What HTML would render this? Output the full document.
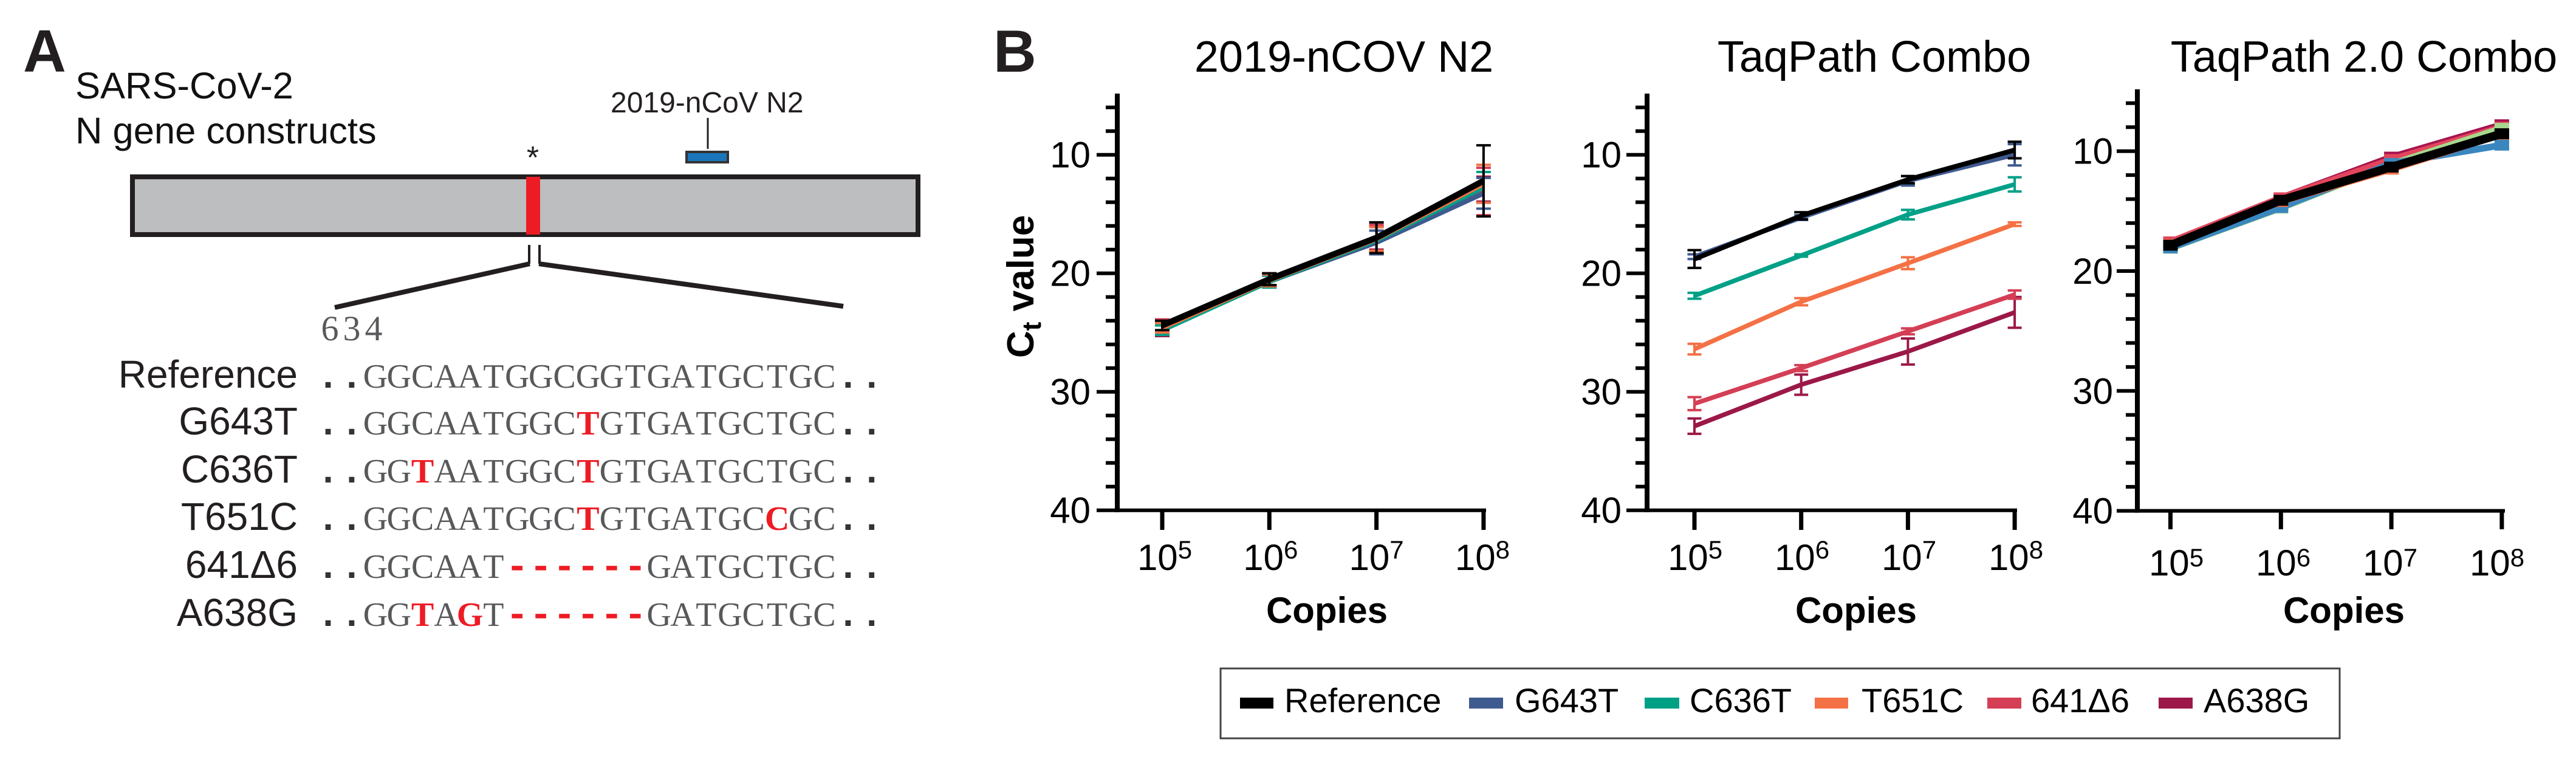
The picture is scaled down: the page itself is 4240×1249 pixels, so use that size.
<!DOCTYPE html>
<html lang="en">
<head>
<meta charset="utf-8">
<title>SARS-CoV-2 N gene constructs and Ct values</title>
<style>
html,body{margin:0;padding:0;background:#fff;}
svg{display:block;font-family:"Liberation Sans",Arial,sans-serif;}
.mono{font-family:"Liberation Serif",serif;font-size:56px;fill:#58595b;text-anchor:middle;}
.mut{fill:#ed1c24;font-weight:bold;}
.dash{fill:#ed1c24;font-weight:bold;font-family:"Liberation Mono",monospace;font-size:62px;}
.dot{fill:#333;font-weight:bold;font-family:"Liberation Mono",monospace;font-size:62px;}
.lbl{font-size:64px;fill:#231f20;text-anchor:end;}
.leg{font-size:56px;fill:#000;}
</style>
</head>
<body>
<svg id="fig" xmlns="http://www.w3.org/2000/svg" width="4240" height="1249" viewBox="0 0 4240 1249">
<rect width="4240" height="1249" fill="#fff"/>
<g>
<text x="38" y="118" font-size="98" font-weight="bold" fill="#231f20">A</text>
<text x="124" y="162" font-size="61.5" fill="#111">SARS-CoV-2</text>
<text x="124" y="236" font-size="61.5" fill="#111">N gene constructs</text>
<text x="1005" y="185" font-size="48" fill="#231f20">2019-nCoV N2</text>
<line x1="1165" y1="194" x2="1165" y2="245" stroke="#231f20" stroke-width="3"/>
<rect x="1130" y="250" width="68" height="17" fill="#1b75bb" stroke="#333" stroke-width="4"/>
<text x="877" y="277" font-size="52" text-anchor="middle" fill="#231f20">*</text>
<rect x="218" y="291" width="1293" height="95" fill="#bcbec0" stroke="#231f20" stroke-width="8"/>
<rect x="866" y="291" width="23" height="95" fill="#ed1c24"/>
<line x1="871" y1="403" x2="871" y2="434" stroke="#231f20" stroke-width="4"/>
<line x1="888" y1="403" x2="888" y2="434" stroke="#231f20" stroke-width="4"/>
<line x1="872" y1="434" x2="551" y2="506" stroke="#231f20" stroke-width="8"/>
<line x1="887" y1="434" x2="1388" y2="504" stroke="#231f20" stroke-width="8"/>
<text x="543 579 615" y="560" text-anchor="middle" font-family="Liberation Serif, serif" font-size="58" fill="#58595b">634</text>

<text class="lbl" x="490" y="638">Reference</text>
<text class="lbl" x="490" y="715">G643T</text>
<text class="lbl" x="490" y="794">C636T</text>
<text class="lbl" x="490" y="872">T651C</text>
<text class="lbl" x="490" y="951">641Δ6</text>
<text class="lbl" x="490" y="1030">A638G</text>

<text class="mono" y="638"><tspan class="dot">..</tspan>GGCAATGGCGGTGATGCTGC<tspan class="dot">..</tspan></text>
<text class="mono" y="715"><tspan class="dot">..</tspan>GGCAATGGC<tspan class="mut">T</tspan>GTGATGCTGC<tspan class="dot">..</tspan></text>
<text class="mono" y="794"><tspan class="dot">..</tspan>GG<tspan class="mut">T</tspan>AATGGC<tspan class="mut">T</tspan>GTGATGCTGC<tspan class="dot">..</tspan></text>
<text class="mono" y="872"><tspan class="dot">..</tspan>GGCAATGGC<tspan class="mut">T</tspan>GTGATGC<tspan class="mut">C</tspan>GC<tspan class="dot">..</tspan></text>
<text class="mono" y="951"><tspan class="dot">..</tspan>GGCAAT<tspan class="dash">------</tspan>GATGCTGC<tspan class="dot">..</tspan></text>
<text class="mono" y="1030"><tspan class="dot">..</tspan>GG<tspan class="mut">T</tspan>A<tspan class="mut">G</tspan>T<tspan class="dash">------</tspan>GATGCTGC<tspan class="dot">..</tspan></text>
</g>

<text x="1635" y="118" font-size="98" font-weight="bold" fill="#231f20">B</text>

<g id="charts"></g>

<g>
<rect x="2009" y="1100" width="1842" height="115" fill="#fff" stroke="#444" stroke-width="3"/>
<g><rect x="2041" y="1148" width="55" height="18" fill="#000"/><text class="leg" x="2114" y="1172">Reference</text></g>
<g><rect x="2418" y="1148" width="56" height="18" fill="#3f5a8f"/><text class="leg" x="2493" y="1172">G643T</text></g>
<g><rect x="2707" y="1148" width="57" height="18" fill="#00a087"/><text class="leg" x="2781" y="1172">C636T</text></g>
<g><rect x="2987" y="1148" width="55" height="18" fill="#f47145"/><text class="leg" x="3064" y="1172">T651C</text></g>
<g><rect x="3271" y="1148" width="56" height="18" fill="#d43f55"/><text class="leg" x="3343" y="1172">641Δ6</text></g>
<g><rect x="3553" y="1148" width="56" height="18" fill="#9b1848"/><text class="leg" x="3627" y="1172">A638G</text></g>
</g>
</svg>

<script>
// Shared categories and tick labels
const copyExponents = [5, 6, 7, 8];
const yMajorTicks = [10, 20, 30, 40];
const yMinorTicks = [6, 8, 12, 14, 16, 18, 22, 24, 26, 28, 32, 34, 36, 38];
const drawOrder = ['a638g', '641d6', 'g643t', 'c636t', 't651c', 'reference'];
const drawOrder2 = ['a638g', '641d6', 'c636t', 'g643t', 't651c', 'reference'];

// Panel 1: 2019-nCOV N2 (Ct means and error half-widths)
const n2A638G = [24.6, 20.5, 17.0, 12.9];
const n2A638GErr = [0.7, 0.5, 1.0, 1.05];
const n2Delta = [24.5, 20.5, 17.0, 13.1];
const n2DeltaErr = [0.6, 0.5, 1.1, 2.0];
const n2G643T = [24.6, 20.7, 17.4, 13.25];
const n2G643TErr = [0.5, 0.5, 1.0, 1.3];
const n2C636T = [24.8, 20.7, 17.2, 12.75];
const n2C636TErr = [0.4, 0.5, 1.1, 1.3];
const n2T651C = [24.6, 20.6, 17.1, 12.45];
const n2T651CErr = [0.4, 0.5, 1.0, 1.6];
const n2Reference = [24.4, 20.5, 17.0, 12.2];
const n2ReferenceErr = [0.4, 0.5, 1.3, 3.0];

// Panel 2: TaqPath Combo
const tpA638G = [32.9, 29.4, 26.6, 23.3];
const tpA638GErr = [0.65, 0.85, 1.1, 1.3];
const tpDelta = [31.0, 28.0, 24.9, 21.8];
const tpDeltaErr = [0.55, 0.25, 0.25, 0.35];
const tpG643T = [18.6, 15.3, 12.2, 10.0];
const tpG643TErr = [0.2, 0.2, 0.4, 0.9];
const tpC636T = [21.9, 18.5, 15.05, 12.5];
const tpC636TErr = [0.25, 0.1, 0.4, 0.6];
const tpT651C = [26.4, 22.4, 19.15, 15.85];
const tpT651CErr = [0.45, 0.3, 0.5, 0.15];
const tpReference = [18.8, 15.15, 12.1, 9.6];
const tpReferenceErr = [0.75, 0.3, 0.3, 0.7];

// Panel 3: TaqPath 2.0 Combo
const tp2A638G = [17.6, 13.9, 10.5, 7.8];
const tp2A638GErr = [0.2, 0.2, 0.2, 0.2];
const tp2Delta = [17.57, 13.9, 10.7, 8.0];
const tp2DeltaErr = [0.2, 0.2, 0.2, 0.2];
const tp2C636T = [18.1, 14.75, 11.1, 8.1];
const tp2C636TErr = [0.2, 0.2, 0.2, 0.2];
const tp2T651C = [17.8, 14.2, 11.5, 8.6];
const tp2T651CErr = [0.2, 0.2, 0.2, 0.2];
const tp2G643T = [18.07, 14.7, 11.03, 9.5];
const tp2G643TErr = [0.2, 0.2, 0.2, 0.2];
const tp2Reference = [17.85, 14.1, 11.33, 8.55];
const tp2ReferenceErr = [0.2, 0.2, 0.2, 0.2];

const palette = {a638g:'#9b1848', '641d6':'#d43f55', g643t:'#3f5a8f', c636t:'#00a087', t651c:'#f47145', reference:'#000'};
const palette3 = {a638g:'#a5134f', '641d6':'#e2465c', g643t:'#3a87c0', c636t:'#a6d98e', t651c:'#f47145', reference:'#000'};

const panels = [
  {key:'n2', title:'2019-nCOV N2', titleX:2212, copiesX:2184, axisX:1839, axisTop:154, y10:254.7, unit:19.5,
   x0:1913, dx:176.3, lx0:1917, ldx:174.3, axisRight:2446, labelRight:1795, tickBottom:872, lblBase:938, supUp:19,
   lineW:8, blackW:10, marker:false, colors:palette, capHalf:12, order:drawOrder,
   means:{a638g:n2A638G,'641d6':n2Delta,g643t:n2G643T,c636t:n2C636T,t651c:n2T651C,reference:n2Reference},
   errs:{a638g:n2A638GErr,'641d6':n2DeltaErr,g643t:n2G643TErr,c636t:n2C636TErr,t651c:n2T651CErr,reference:n2ReferenceErr}},
  {key:'taqpath', title:'TaqPath Combo', titleX:3085, copiesX:3055, axisX:2711, axisTop:154, y10:254.7, unit:19.5,
   x0:2789, dx:175.7, lx0:2790, ldx:176, axisRight:3320, labelRight:2669, tickBottom:872, lblBase:938, supUp:19,
   lineW:7.5, blackW:8, marker:false, colors:palette, capHalf:11.5, order:drawOrder,
   means:{a638g:tpA638G,'641d6':tpDelta,g643t:tpG643T,c636t:tpC636T,t651c:tpT651C,reference:tpReference},
   errs:{a638g:tpA638GErr,'641d6':tpDeltaErr,g643t:tpG643TErr,c636t:tpC636TErr,t651c:tpT651CErr,reference:tpReferenceErr}},
  {key:'taqpath2', title:'TaqPath 2.0 Combo', titleX:3891, copiesX:3858, axisX:3518, axisTop:147, y10:248.7, unit:19.73,
   x0:3572.5, dx:181.8, lx0:3582, ldx:176, axisRight:4123, labelRight:3478, tickBottom:871, lblBase:947, supUp:15,
   lineW:11, blackW:14, marker:true, colors:palette3, capHalf:12, order:drawOrder2,
   means:{a638g:tp2A638G,'641d6':tp2Delta,g643t:tp2G643T,c636t:tp2C636T,t651c:tp2T651C,reference:tp2Reference},
   errs:{a638g:tp2A638GErr,'641d6':tp2DeltaErr,g643t:tp2G643TErr,c636t:tp2C636TErr,t651c:tp2T651CErr,reference:tp2ReferenceErr}}
];

const NS = 'http://www.w3.org/2000/svg';
function mk(tag, attrs, parent) {
  const el = document.createElementNS(NS, tag);
  for (const k in attrs) el.setAttribute(k, attrs[k]);
  parent.appendChild(el);
  return el;
}

// Fixed-pitch layout for the sequence rows: each character centred in its cell
document.querySelectorAll('text.mono').forEach(function (t) {
  const n = t.textContent.length;
  const xs = [];
  for (let i = 0; i < n; i++) xs.push((540 + i * 38.9).toFixed(1));
  t.setAttribute('x', xs.join(' '));
});

const root = document.getElementById('charts');
panels.forEach(function (p, pi) {
  const xScale = function (exp) { return p.x0 + (exp - copyExponents[0]) * p.dx; };
  const labelX = function (exp) { return p.lx0 + (exp - copyExponents[0]) * p.ldx; };
  const yScale = function (v) { return p.y10 + (v - 10) * p.unit; };
  const axisY = yScale(40);

  const g = mk('g', {}, root);
  
  

  const title = mk('text', {x:p.titleX, y:118, 'font-size':72, 'text-anchor':'middle', fill:'#000'}, g);
  
  
  title.textContent = p.title;

  const yAxis = mk('line', {x1:p.axisX, x2:p.axisX, y1:p.axisTop, y2:axisY + 3, stroke:'#000', 'stroke-width':8}, g);
  
  

  const xAxis = mk('line', {x1:p.axisX - 4, x2:p.axisRight, y1:axisY, y2:axisY, stroke:'#000', 'stroke-width':6}, g);
  
  

  yMinorTicks.forEach(function (v) {
    const t = mk('line', {x1:p.axisX - 19, x2:p.axisX, y1:yScale(v), y2:yScale(v), stroke:'#000', 'stroke-width':6}, g);
    
    
  });
  yMajorTicks.forEach(function (v) {
    const t = mk('line', {x1:p.axisX - 34, x2:p.axisX, y1:yScale(v), y2:yScale(v), stroke:'#000', 'stroke-width':6}, g);
    
    
    const l = mk('text', {x:p.labelRight, y:yScale(v) + 21, 'font-size':60, 'text-anchor':'end', fill:'#000'}, g);
    
    
    l.textContent = String(v);
  });
  copyExponents.forEach(function (e) {
    const t = mk('line', {x1:xScale(e), x2:xScale(e), y1:axisY, y2:p.tickBottom, stroke:'#000', 'stroke-width':7}, g);
    
    
    const l = mk('text', {x:labelX(e), y:p.lblBase, 'font-size':60, 'text-anchor':'middle', fill:'#000'}, g);
    
    
    const base = mk('tspan', {}, l);
    base.textContent = '10';
    const sup = mk('tspan', {dy:-p.supUp, 'font-size':42}, l);
    sup.textContent = String(e);
  });

  const xt = mk('text', {x:p.copiesX, y:1025, 'font-size':60, 'font-weight':'bold', 'text-anchor':'middle', fill:'#000'}, g);
  
  
  xt.textContent = 'Copies';

  if (pi === 0) {
    const yt = mk('text', {transform:'translate(1701,589) rotate(-90)', 'font-size':62, 'font-weight':'bold', fill:'#000'}, g);
    
    
    const a = mk('tspan', {}, yt);
    a.textContent = 'C';
    const b = mk('tspan', {dy:12, 'font-size':44}, yt);
    b.textContent = 't';
    const c = mk('tspan', {dy:-12}, yt);
    c.textContent = '\u00A0value';
  }

  p.order.forEach(function (key) {
    const means = p.means[key];
    const errs = p.errs[key];
    const color = p.colors[key];
    const sg = mk('g', {}, g);
    
    
    const pts = means.map(function (v, i) { return xScale(copyExponents[i]) + ',' + yScale(v); }).join(' ');
    const line = mk('polyline', {points:pts, fill:'none', stroke:color, 'stroke-width':key === 'reference' ? p.blackW : p.lineW, 'stroke-linejoin':'round'}, sg);
    
    
    means.forEach(function (v, i) {
      const x = xScale(copyExponents[i]);
      const hi = yScale(v - errs[i]);
      const lo = yScale(v + errs[i]);
      const stem = mk('line', {x1:x, x2:x, y1:hi, y2:lo, stroke:color, 'stroke-width':4}, sg);
      
      
      [hi, lo].forEach(function (cy) {
        const cap = mk('line', {x1:x - p.capHalf, x2:x + p.capHalf, y1:cy, y2:cy, stroke:color, 'stroke-width':4}, sg);
        
        
      });
      if (p.marker) {
        const m = mk('rect', {x:x - 12, y:yScale(v) - 9, width:24, height:18, fill:color}, sg);
        
        
      }
    });
  });
});
</script>
</body>
</html>
